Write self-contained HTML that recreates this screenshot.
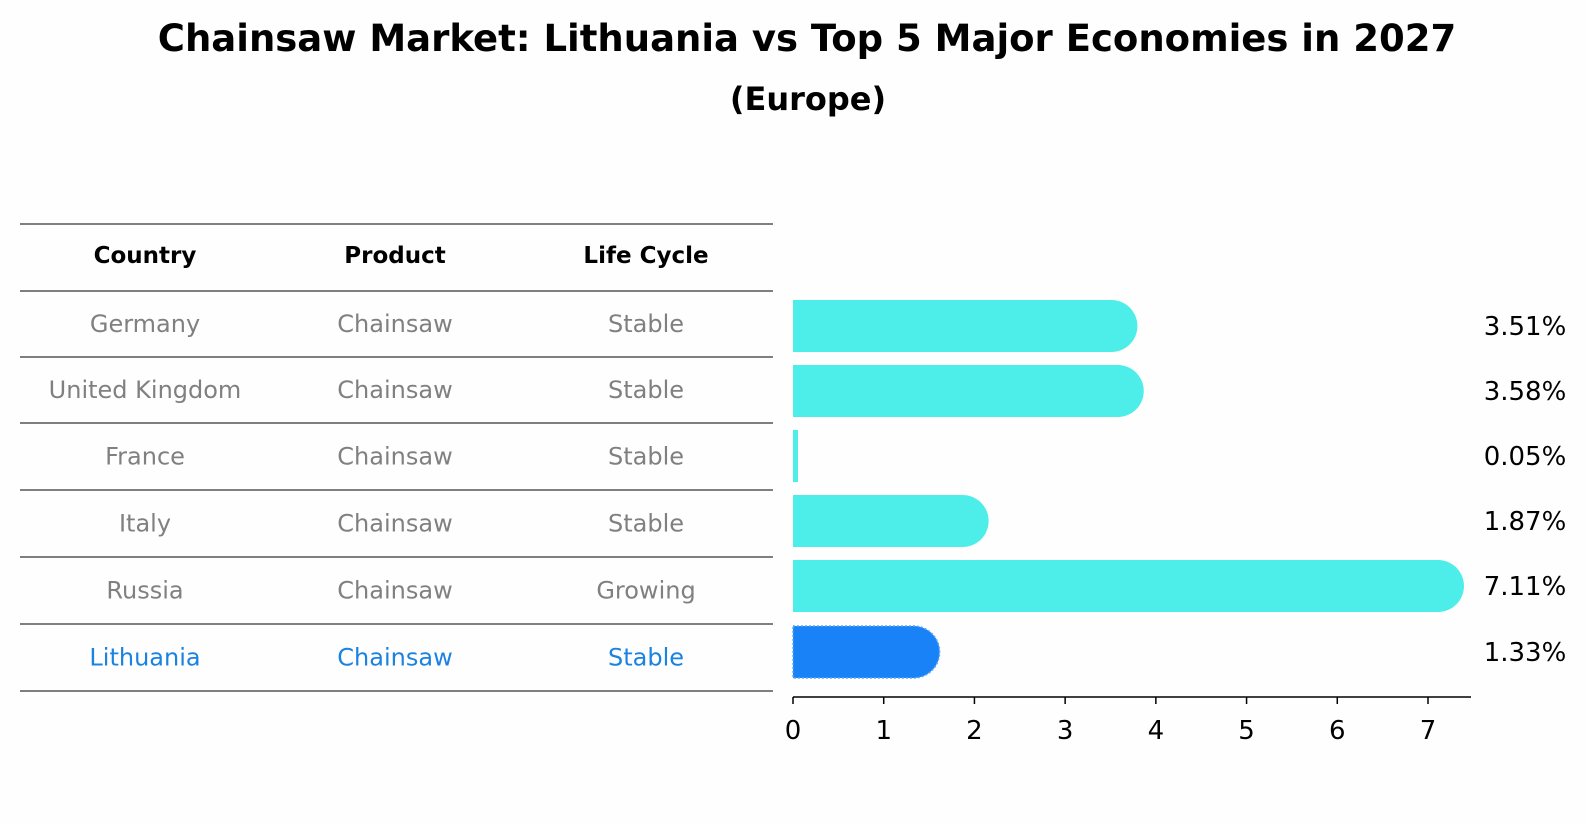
<!DOCTYPE html>
<html><head><meta charset="utf-8"><style>
body{margin:0;background:#fff;font-family:"DejaVu Sans","Liberation Sans",sans-serif;}
</style></head><body>
<svg width="1586" height="823" xmlns="http://www.w3.org/2000/svg" font-family="DejaVu Sans, Liberation Sans, sans-serif">
<rect width="1586" height="823" fill="#fefefe"/>
<text x="807" y="51" text-anchor="middle" font-size="37" font-weight="bold">Chainsaw Market: Lithuania vs Top 5 Major Economies in 2027</text>
<text x="808" y="110" text-anchor="middle" font-size="32" font-weight="bold">(Europe)</text>
<g id="table"></g>
<g id="bars"></g>
</svg>
<script>
const countries=["Germany","United Kingdom","France","Italy","Russia","Lithuania"];
const products=["Chainsaw","Chainsaw","Chainsaw","Chainsaw","Chainsaw","Chainsaw"];
const lifeCycles=["Stable","Stable","Stable","Stable","Growing","Stable"];
const values=[3.51,3.58,0.05,1.87,7.11,1.33];
const valueLabels=["3.51%","3.58%","0.05%","1.87%","7.11%","1.33%"];
const ticks=[0,1,2,3,4,5,6,7];
const NS="http://www.w3.org/2000/svg";
function mk(t,a,p){const e=document.createElementNS(NS,t);for(const k in a)e.setAttribute(k,a[k]);p.appendChild(e);return e;}
const tbl=document.getElementById('table'),bars=document.getElementById('bars');
const rowY=[224,291,357,423,490,557,624,691];
const colX=[145,395,646];
rowY.forEach((y,i)=>{const l=mk('line',{x1:20,x2:773,y1:y,y2:y,stroke:'#000','stroke-width':1},tbl);

});
["Country","Product","Life Cycle"].forEach((h,j)=>{const t=mk('text',{x:colX[j],y:263,'text-anchor':'middle','font-size':23,'font-weight':'bold'},tbl);t.textContent=h;

});
countries.forEach((c,i)=>{const y=(rowY[i+1]+rowY[i+2])/2+8;const col=i===5?'#1a82e0':'#808080';
[c,products[i],lifeCycles[i]].forEach((v,j)=>{const t=mk('text',{x:colX[j],y:y,'text-anchor':'middle','font-size':24,fill:col},tbl);t.textContent=v;

});});
const x0=793,ppu=(1428-793)/7;const xs=v=>x0+v*ppu;
const barTop=[300,365,430,495,560,626],bh=52;
values.forEach((v,i)=>{const y=barTop[i],r=bh/2,x1=xs(v),col=i===5?'#1a82f7':'#4deeea';
const w=x1-x0;
if(w>r){const d=`M${x0},${y}H${x1}A${r},${r} 0 0 1 ${x1},${y+bh}H${x0}Z`;
 const p=mk('path',{d:d,fill:col},bars);
 if(i===5){p.setAttribute('stroke','#5aa8f8');p.setAttribute('stroke-dasharray','2,2');p.setAttribute('stroke-width','1.5');}
 }
else{const p=mk('rect',{x:x0,y:y,width:Math.max(w,5),height:bh,fill:col},bars);}
const t=mk('text',{x:1525,y:y+bh/2+9,'text-anchor':'middle','font-size':26},bars);t.textContent=valueLabels[i];

});
const ax=mk('line',{x1:x0,x2:1471,y1:697,y2:697,stroke:'#000','stroke-width':1.5},bars);


ticks.forEach(t=>{const l=mk('line',{x1:xs(t),x2:xs(t),y1:697,y2:704,stroke:'#000','stroke-width':1.5},bars);


const tx=mk('text',{x:xs(t),y:739,'text-anchor':'middle','font-size':26},bars);tx.textContent=t;

});
</script>
</body></html>
